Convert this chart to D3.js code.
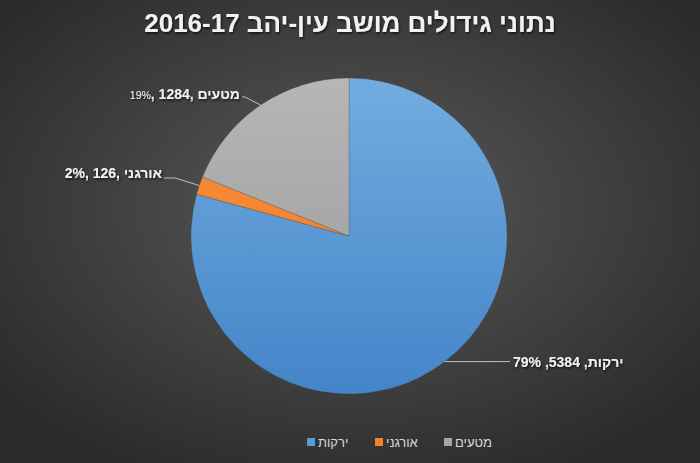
<!DOCTYPE html>
<html><head><meta charset="utf-8">
<script src="https://cdn.jsdelivr.net/npm/d3@7"></script>
<style>html,body{margin:0;padding:0;background:#333;}svg{display:block;}</style>
</head><body>
<svg id="c" width="700" height="463"></svg>
<script>
const categories = ["ירקות", "אורגני", "מטעים"];
const values = [5384, 126, 1284];
const percents = ["79%", "2%", "19%"];
const colors = ["#5b9bd5", "#f57f2a", "#a5a5a5"];
const title = "נתוני גידולים מושב עין-יהב 2016-17";

const W = 700, H = 463, cx = 349, cy = 236, R = 158;
const svg = d3.select("#c");
const defs = svg.append("defs");
const bg = defs.append("radialGradient").attr("id","bg").attr("cx","50%").attr("cy","45%").attr("r","65%");
bg.append("stop").attr("offset","0%").attr("stop-color","#5a5a5a");
bg.append("stop").attr("offset","100%").attr("stop-color","#2a2a2a");
svg.append("rect").attr("width",W).attr("height",H).attr("fill","url(#bg)");

const grads = [["#72acdf","#4485c9"],["#f8913f","#ee7a22"],["#b6b6b6","#989898"]];
grads.forEach((g,i)=>{
  const lg = defs.append("linearGradient").attr("id","g"+i).attr("gradientUnits","userSpaceOnUse")
    .attr("x1",0).attr("y1",-R).attr("x2",0).attr("y2",R);
  lg.append("stop").attr("offset","0%").attr("stop-color",g[0]);
  lg.append("stop").attr("offset","100%").attr("stop-color",g[1]);
});
const sh = defs.append("filter").attr("id","ts").attr("x","-10%").attr("y","-30%").attr("width","120%").attr("height","160%");
sh.append("feDropShadow").attr("dx",1).attr("dy",1.5).attr("stdDeviation",1.2).attr("flood-color","#000").attr("flood-opacity",0.7);

svg.append("text").attr("x",350).attr("y",32).attr("text-anchor","middle")
  .attr("font-family","Liberation Sans, Arial, sans-serif").attr("font-weight","bold").attr("font-size",26)
  .attr("fill","#f2f2f2").attr("direction","rtl").attr("filter","url(#ts)").text(title);

const pie = d3.pie().sort(null).value(d=>d)(values);
const arc = d3.arc().innerRadius(0).outerRadius(R);
const g = svg.append("g").attr("transform",`translate(${cx},${cy})`);
g.selectAll("path").data(pie).join("path").attr("d",arc)
  .attr("fill",(d,i)=>`url(#g${i})`)
  .attr("stroke","rgba(60,60,60,0.35)").attr("stroke-width",0.6);

// labels with leader lines
const font = "Liberation Sans, Arial, sans-serif";
const mid = d => (d.startAngle+d.endAngle)/2;
function edge(d, k){ const a = mid(d); return [cx + R*k*Math.sin(a), cy - R*k*Math.cos(a)]; }
const lab = svg.append("g").attr("font-family",font).attr("fill","#f2f2f2");
const FS = 14;
// slice 0 (ירקות)
{
  const p = edge(pie[0],1.0);
  lab.append("polyline").attr("points",`${p[0]},${p[1]} ${510},${p[1]}`).attr("fill","none").attr("stroke","#bfbfbf").attr("stroke-width",1);
  lab.append("text").attr("x",513).attr("y",p[1]+5).attr("font-weight","bold").attr("font-size",FS)
    .attr("filter","url(#ts)").text(`${percents[0]} ,${values[0]} ,\u200E${categories[0]}`);
}
// slice 1 (אורגני)
{
  const p = edge(pie[1],1.0);
  lab.append("polyline").attr("points",`${p[0]},${p[1]} 175,178 164,178`).attr("fill","none").attr("stroke","#bfbfbf").attr("stroke-width",1);
  lab.append("text").attr("x",162).attr("y",178).attr("text-anchor","end").attr("font-weight","bold").attr("font-size",FS)
    .attr("filter","url(#ts)").text(`${percents[1]}, ${values[1]}, \u200E${categories[1]}\u200E`);
}
// slice 2 (מטעים)
{
  const p = edge(pie[2],1.0);
  lab.append("polyline").attr("points",`${p[0]},${p[1]} 245,97 242,97`).attr("fill","none").attr("stroke","#bfbfbf").attr("stroke-width",1);
  const t = lab.append("text").attr("x",240).attr("y",99).attr("text-anchor","end").attr("filter","url(#ts)");
  t.append("tspan").attr("font-size",10.5).attr("font-weight","normal").text(percents[2]);
  t.append("tspan").attr("font-size",FS).attr("font-weight","bold").text(`, ${values[2]}, \u200E${categories[2]}\u200E`);
}

// legend
const leg = svg.append("g").attr("font-family",font).attr("font-size",13).attr("fill","#d9d9d9");
const legX = [307, 375, 444];
categories.forEach((c,i)=>{
  leg.append("rect").attr("x",legX[i]).attr("y",438).attr("width",8).attr("height",8).attr("fill",colors[i]);
  leg.append("text").attr("x",legX[i]+11).attr("y",447).text(c);
});
</script>
</body></html>
